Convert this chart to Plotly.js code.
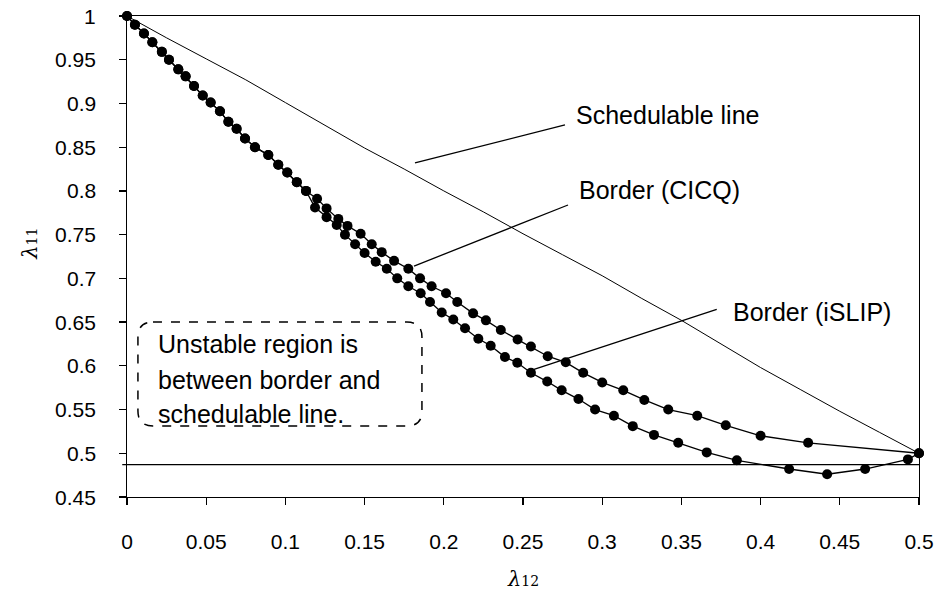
<!DOCTYPE html>
<html>
<head>
<meta charset="utf-8">
<script src="https://cdn.plot.ly/plotly-3.0.1.min.js"></script>
<style>html,body{margin:0;padding:0;background:#fff;}#chart{width:943px;height:597px;}</style>
</head>
<body>
<div id="chart"></div>
<script>
// Schedulable line
const schedX = [0,0.025,0.05,0.075,0.1,0.125,0.15,0.175,0.2,0.225,0.25,0.275,0.3,0.325,0.35,0.375,0.4,0.425,0.45,0.475,0.5];
const schedY = [1,0.975,0.951,0.927,0.901,0.875,0.849,0.825,0.800,0.776,0.751,0.727,0.703,0.677,0.652,0.625,0.598,0.573,0.548,0.524,0.5];

// Border (CICQ)
const cicqX = [0,0.005,0.0107,0.016,0.022,0.0265,0.0324,0.037,0.0423,0.0478,0.0528,0.0587,0.064,0.0692,0.0745,0.0808,0.0892,0.0955,0.1012,0.1072,0.113,
  0.120,0.126,0.1334,0.1392,0.1475,0.1545,0.1608,0.1686,0.1776,0.185,0.1923,0.2014,0.2085,0.2185,0.2266,0.236,0.2466,0.255,0.2656,0.277,0.288,0.300,0.3133,0.3266,0.3417,0.360,0.378,0.400,0.430,0.5];
const cicqY = [1,0.99,0.98,0.97,0.959,0.95,0.939,0.931,0.92,0.909,0.901,0.891,0.879,0.871,0.86,0.85,0.841,0.83,0.821,0.81,0.80,
  0.791,0.780,0.768,0.760,0.751,0.739,0.730,0.720,0.711,0.700,0.691,0.683,0.673,0.660,0.652,0.641,0.630,0.622,0.611,0.604,0.592,0.581,0.572,0.561,0.550,0.543,0.532,0.520,0.512,0.5];

// Border (iSLIP)
const islipX = [0,0.005,0.0107,0.016,0.022,0.0265,0.0324,0.037,0.0423,0.0478,0.0528,0.0587,0.064,0.0692,0.0745,0.0808,0.0892,0.0955,0.1012,0.1072,0.113,
  0.1187,0.126,0.1324,0.1376,0.144,0.150,0.157,0.164,0.1706,0.1776,0.1854,0.1913,0.1987,0.206,0.2134,0.2218,0.2296,0.2386,0.2464,0.255,0.2653,0.2744,0.285,0.2955,0.3074,0.3193,0.3327,0.348,0.366,0.385,0.418,0.442,0.466,0.493,0.5];
const islipY = [1,0.99,0.98,0.97,0.959,0.95,0.939,0.931,0.92,0.909,0.901,0.891,0.879,0.871,0.86,0.85,0.841,0.83,0.821,0.81,0.80,
  0.781,0.770,0.761,0.750,0.739,0.729,0.719,0.711,0.700,0.691,0.683,0.673,0.661,0.653,0.643,0.631,0.623,0.610,0.6035,0.592,0.582,0.572,0.562,0.550,0.543,0.531,0.521,0.512,0.501,0.492,0.482,0.476,0.482,0.493,0.5];

// Horizontal reference line
const hlineY = 0.487;

// Tick labels
const xTickVals = [0,0.05,0.1,0.15,0.2,0.25,0.3,0.35,0.4,0.45,0.5];
const xTickText = ["0","0.05","0.1","0.15","0.2","0.25","0.3","0.35","0.4","0.45","0.5"];
const yTickVals = [0.45,0.5,0.55,0.6,0.65,0.7,0.75,0.8,0.85,0.9,0.95,1];
const yTickText = ["0.45","0.5","0.55","0.6","0.65","0.7","0.75","0.8","0.85","0.9","0.95","1"];

// Labels
const labels = ["Schedulable line","Border (CICQ)","Border (iSLIP)"];
const labelX = [0.2822,0.2841,0.3815];
const labelY = [0.8868,0.801,0.6615];
const pointers = [
  {x:[0.1818,0.2765], y:[0.832,0.8755]},
  {x:[0.1812,0.2784], y:[0.714,0.7839]},
  {x:[0.2555,0.3723], y:[0.5952,0.6646]}
];
const boxLines = ["Unstable region is","between border and","schedulable line."];
const boxLineY = [0.6246,0.5834,0.5446];

const FONT = "Arial, 'Liberation Sans', sans-serif";

const traces = [];
traces.push({x:schedX, y:schedY, mode:'lines', line:{color:'#000', width:1}, hoverinfo:'skip'});
pointers.forEach(p => traces.push({x:p.x, y:p.y, mode:'lines', line:{color:'#000', width:1.3}, hoverinfo:'skip', cliponaxis:false}));
traces.push({x:islipX, y:islipY, mode:'lines+markers', line:{color:'#000', width:1.3}, marker:{color:'#000', size:10}, cliponaxis:false});
traces.push({x:cicqX, y:cicqY, mode:'lines+markers', line:{color:'#000', width:1.3}, marker:{color:'#000', size:10}, cliponaxis:false});

const annotations = [];
labels.forEach((t,i) => annotations.push({x:labelX[i], y:labelY[i], xref:'x', yref:'y', text:t, showarrow:false, xanchor:'left', yanchor:'middle', font:{family:FONT, size:25, color:'#000'}}));
boxLines.forEach((t,i) => annotations.push({x:0.0185, y:boxLineY[i], xref:'x', yref:'y', text:t, showarrow:false, xanchor:'left', yanchor:'middle', font:{family:FONT, size:25, color:'#000'}}));
// y tick labels (placed further from axis like the reference)
yTickVals.forEach((v,i) => annotations.push({x:-0.0366, y:v, xref:'paper', yref:'y', text:yTickText[i], showarrow:false, xanchor:'right', yanchor:'middle', font:{family:FONT, size:21, color:'#000'}}));
annotations.push({x:-0.122, y:0.74, xref:'paper', yref:'y', xanchor:'center', yanchor:'middle', textangle:-90, showarrow:false,
  text:'<i>λ</i><span style="font-size:14px">11</span>', font:{family:"'DejaVu Serif', serif", size:21, color:'#000'}});
annotations.push({x:0.5, y:-0.17, xref:'paper', yref:'paper', xanchor:'center', yanchor:'middle', showarrow:false,
  text:'<i>λ</i><span style="font-size:14px">12</span>', font:{family:"'DejaVu Serif', serif", size:21, color:'#000'}});

// rounded dashed box (data coords)
const bx0=0.0069, bx1=0.1862, by0=0.5312, by1=0.650, rx=0.0095, ry=0.017;
const boxPath = `M ${bx0+rx},${by1} L ${bx1-rx},${by1} Q ${bx1},${by1} ${bx1},${by1-ry} L ${bx1},${by0+ry} Q ${bx1},${by0} ${bx1-rx},${by0} L ${bx0+rx},${by0} Q ${bx0},${by0} ${bx0},${by0+ry} L ${bx0},${by1-ry} Q ${bx0},${by1} ${bx0+rx},${by1} Z`;

const layout = {
  width:943, height:597,
  margin:{l:127, r:24, t:16, b:100},
  paper_bgcolor:'#fff', plot_bgcolor:'#fff',
  showlegend:false,
  font:{family:FONT, size:21, color:'#000'},
  xaxis:{
    range:[0,0.5], tickvals:xTickVals, ticktext:xTickText,
    showgrid:false, zeroline:false, showline:true, linecolor:'#000', linewidth:1.3, mirror:true,
    ticks:'outside', ticklen:7, tickwidth:1.3, tickcolor:'#000', ticklabelstandoff:18,
    tickfont:{family:FONT, size:21, color:'#000'}
  },
  yaxis:{
    range:[0.45,1], tickvals:yTickVals, showticklabels:false,
    showgrid:false, zeroline:false, showline:true, linecolor:'#000', linewidth:1.3, mirror:true,
    ticks:'outside', ticklen:7, tickwidth:1.3, tickcolor:'#000'
  },
  shapes:[
    {type:'line', xref:'paper', yref:'y', x0:-0.006, x1:1, y0:hlineY, y1:hlineY, line:{color:'#000', width:1.3}},
    {type:'path', xref:'x', yref:'y', path:boxPath, line:{color:'#000', width:1.5, dash:'dash'}, fillcolor:'rgba(0,0,0,0)'}
  ],
  annotations:annotations
};

Plotly.newPlot('chart', traces, layout, {displayModeBar:false, staticPlot:true});
</script>
</body>
</html>
